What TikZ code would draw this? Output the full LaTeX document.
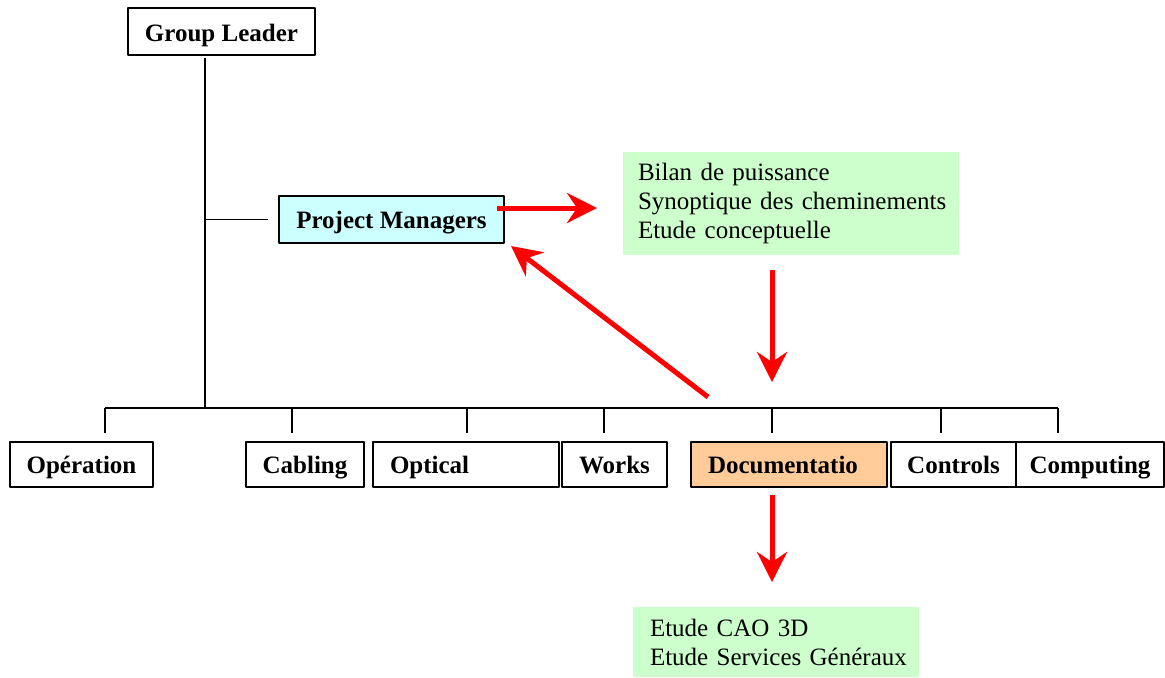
\documentclass[tikz,border=0pt]{standalone}
\usepackage{fontspec}
\setmainfont{Liberation Serif}
\usetikzlibrary{arrows.meta}
\definecolor{pmcyan}{HTML}{CCFFFF}
\definecolor{docorange}{HTML}{FFCC99}
\definecolor{notegreen}{HTML}{CCFFCC}
\begin{document}
\begin{tikzpicture}[x=0.5pt, y=-0.5pt, font=\fontsize{12.5}{14.5}\selectfont, line join=round, line width=0.75pt,
	unit/.style={draw, line width=1pt, inner sep=0pt, outer sep=0pt, minimum height=22.5pt, text height=11pt, text depth=2.5pt, font=\fontsize{12.5}{14.5}\selectfont\bfseries},
	note/.style={fill=notegreen, align=left, inner sep=0pt, outer sep=0pt, anchor=north west},
	notepad/.style={execute at begin node={\setlength{\leftskip}{#1}}},
	redarrow/.style={red, line width=2.5pt, -{Stealth[length=15pt, width=15pt, inset=5pt]}}]
	\useasboundingbox (0,0) rectangle (1165,677);
	\node[unit, minimum width=93.5pt, minimum height=23.5pt, text height=12pt, text depth=2pt] (GL) at (221.5,31.5) {Group Leader};
	\node[unit, fill=pmcyan, minimum width=112.5pt, minimum height=23.5pt] (PM) at (391.5,219.5) {Project Managers};
	\node[unit, minimum width=71.5pt] (op) at (81.5,464.5) {Opération};
	\node[unit, minimum width=59pt] (cab) at (305,464.5) {Cabling};
	\node[unit, text width=76pt, inner xsep=8.5pt, align=left] (opt) at (466,464.5) {Optical};
	\node[unit, minimum width=52.5pt] (wor) at (614.5,464.5) {Works};
	\node[unit, fill=docorange, text width=81pt, inner xsep=8.5pt, align=left] (doc) at (789,464.5) {Documentatio};
	\node[unit, minimum width=62.5pt] (con) at (953.5,464.5) {Controls};
	\node[unit, minimum width=74pt] (com) at (1090,464.5) {Computing};
	\node[note, text width=168pt, minimum height=51.5pt, notepad=7.5pt] (bilan) at (623,152)
		{Bilan de puissance\\Synoptique des cheminements\\Etude conceptuelle};
	\node[note, text width=143pt, minimum height=35pt, notepad=8.5pt] (cao) at (633,607)
		{Etude CAO 3D\\Etude Services Généraux};
	\coordinate (top) at (205,58);
	\coordinate (hub) at (205,408);
	\foreach \n/\x in {op/105, cab/292, opt/467, wor/604, doc/772, con/941, com/1058}{
		\coordinate (d\n) at (\x,408);
		\draw[shorten >=4.5pt] (d\n) -- (d\n |- \n.north);
	}
	\draw (top) -- (hub) (dop) -- (dcom);
	\draw[shorten >=5.5pt] (hub |- PM.west) -- (PM.west);
	\draw[redarrow] ([xshift=-3.5pt,yshift=5.75pt]PM.east) -- ([xshift=-13pt,yshift=-2.25pt]bilan.west);
	\draw[redarrow] ([xshift=-9.5pt,yshift=-7.5pt]bilan.south) -- ([yshift=13pt]ddoc);
	\draw[redarrow] ([xshift=-32pt,yshift=5.5pt]ddoc) -- ([xshift=3.5pt,yshift=-1.5pt]PM.south east);
	\draw[redarrow] ([xshift=-8.5pt,yshift=-4pt]doc.south) -- ([xshift=-2pt,yshift=12.5pt]cao.north);
\end{tikzpicture}
\end{document}
